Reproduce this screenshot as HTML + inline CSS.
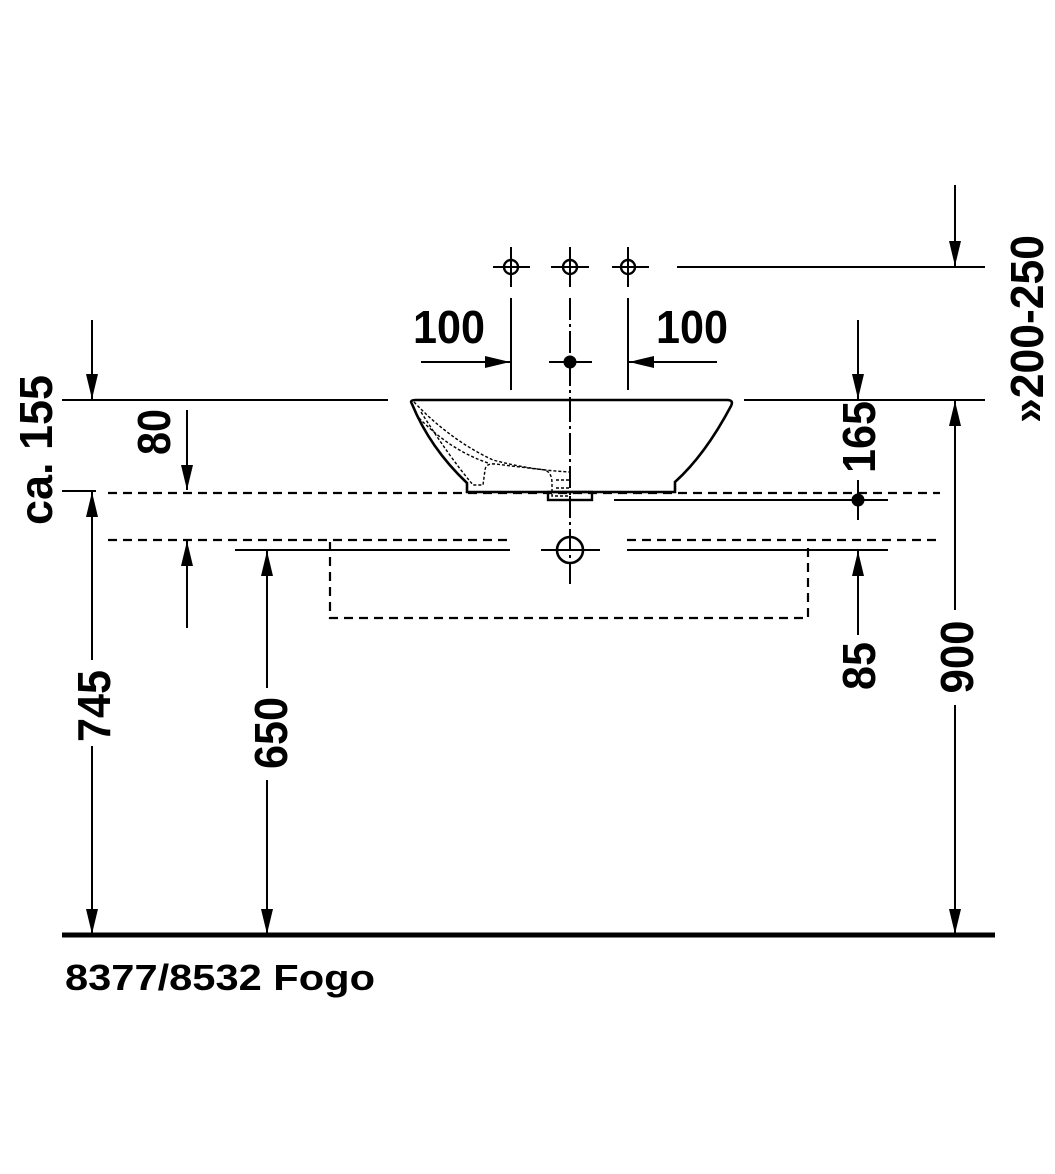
<!DOCTYPE html>
<html><head><meta charset="utf-8"><style>
html,body{margin:0;padding:0;background:#fff}
svg{display:block}
text{font-family:"Liberation Sans",sans-serif;font-weight:bold;fill:#000}
</style></head><body>
<svg width="1055" height="1174" viewBox="0 0 1055 1174" xmlns="http://www.w3.org/2000/svg">
<defs>
<marker id="a" viewBox="0 0 25 12" refX="25" refY="6" markerWidth="25" markerHeight="12" markerUnits="userSpaceOnUse" orient="auto-start-reverse"><path d="M0,0 L25,6 L0,12 Z" fill="#000"/></marker>
</defs>
<g stroke="#000" fill="none" stroke-width="2">
<g stroke-width="2.4"><circle cx="511" cy="267" r="7"/><circle cx="570" cy="267" r="7"/><circle cx="628" cy="267" r="7"/></g>
<line x1="493" y1="267" x2="530" y2="267"/><line x1="511" y1="247" x2="511" y2="287"/>
<line x1="551" y1="267" x2="589" y2="267"/><line x1="570" y1="247" x2="570" y2="287"/>
<line x1="612" y1="267" x2="649" y2="267"/><line x1="628" y1="247" x2="628" y2="287"/>
<line x1="511" y1="298" x2="511" y2="390"/>
<line x1="628" y1="298" x2="628" y2="390"/>
<line x1="570" y1="298" x2="570" y2="585" stroke-dasharray="22,4,3,4"/>
<line x1="549" y1="362" x2="592" y2="362"/>
<line x1="421" y1="362" x2="510" y2="362" marker-end="url(#a)"/>
<line x1="717" y1="362" x2="629" y2="362" marker-end="url(#a)"/>
<line x1="677" y1="267" x2="985" y2="267"/>
<line x1="955" y1="185" x2="955" y2="266" marker-end="url(#a)"/>
<line x1="62" y1="400" x2="388" y2="400"/>
<line x1="744" y1="400" x2="985" y2="400"/>
<path d="M412,404 Q409,400 416,400 L727,400 Q734,400 731,406 Q705,455 675,482 L675,492 L467,492 L467,483 Q430,448 412,404 Z" stroke-width="2.6" fill="#fff"/>
<rect x="548" y="492" width="44" height="8" stroke-width="2.4"/>
<line x1="570" y1="400" x2="570" y2="500" stroke-dasharray="22,4,3,4"/>
<g stroke-width="1.4" stroke-dasharray="3,2">
<path d="M414,402 Q450,440 493,460 Q530,470 570,472"/>
<path d="M421,412 Q448,455 473,485 L483,485 L485,470 Q486,463 495,464 L545,470 Q552,473 552,483 L552,496 L570,496"/>
<path d="M419,418 Q450,450 488,463"/>
<line x1="556" y1="480" x2="570" y2="480"/><line x1="556" y1="488" x2="570" y2="488"/>
</g>
<line x1="62" y1="491" x2="96" y2="491"/>
<line x1="108" y1="493" x2="940" y2="493" stroke-width="2.2" stroke-dasharray="9,6"/>
<line x1="614" y1="500" x2="888" y2="500"/>
<circle cx="858" cy="500" r="5.5" fill="#000"/>
<circle cx="570" cy="362" r="5.5" fill="#000"/>
<line x1="108" y1="540" x2="512" y2="540" stroke-width="2.2" stroke-dasharray="9,6"/>
<line x1="627" y1="540" x2="937" y2="540" stroke-width="2.2" stroke-dasharray="9,6"/>
<line x1="235" y1="550" x2="510" y2="550"/>
<line x1="627" y1="550" x2="888" y2="550"/>
<circle cx="570" cy="550" r="13" stroke-width="2.6"/>
<line x1="541" y1="550" x2="600" y2="550"/>
<path d="M330,542 L330,618 L808,618 L808,542" stroke-width="2.2" stroke-dasharray="9,6"/>
<line x1="92" y1="320" x2="92" y2="399" marker-end="url(#a)"/>
<line x1="92" y1="660" x2="92" y2="492" marker-end="url(#a)"/>
<line x1="92" y1="746" x2="92" y2="934" marker-end="url(#a)"/>
<line x1="187" y1="410" x2="187" y2="490" marker-end="url(#a)"/>
<line x1="187" y1="628" x2="187" y2="541" marker-end="url(#a)"/>
<line x1="267" y1="688" x2="267" y2="551" marker-end="url(#a)"/>
<line x1="267" y1="780" x2="267" y2="934" marker-end="url(#a)"/>
<line x1="858" y1="320" x2="858" y2="399" marker-end="url(#a)"/>
<line x1="858" y1="480" x2="858" y2="520"/>
<line x1="858" y1="635" x2="858" y2="551" marker-end="url(#a)"/>
<line x1="955" y1="610" x2="955" y2="401" marker-end="url(#a)"/>
<line x1="955" y1="705" x2="955" y2="934" marker-end="url(#a)"/>
<line x1="62" y1="935" x2="995" y2="935" stroke-width="5"/>
</g>
<g font-size="46">
<text x="413" y="343" textLength="72" lengthAdjust="spacingAndGlyphs">100</text>
<text x="656" y="343" textLength="72" lengthAdjust="spacingAndGlyphs">100</text>
<text transform="translate(52,450) rotate(-90)" text-anchor="middle" textLength="150" lengthAdjust="spacingAndGlyphs">ca. 155</text>
<text transform="translate(170,432) rotate(-90)" text-anchor="middle" textLength="46" lengthAdjust="spacingAndGlyphs">80</text>
<text transform="translate(110,706) rotate(-90)" text-anchor="middle" textLength="72" lengthAdjust="spacingAndGlyphs">745</text>
<text transform="translate(287,733) rotate(-90)" text-anchor="middle" textLength="72" lengthAdjust="spacingAndGlyphs">650</text>
<text transform="translate(875,437) rotate(-90)" text-anchor="middle" textLength="72" lengthAdjust="spacingAndGlyphs">165</text>
<text transform="translate(875,666) rotate(-90)" text-anchor="middle" textLength="48" lengthAdjust="spacingAndGlyphs">85</text>
<text transform="translate(973,657) rotate(-90)" text-anchor="middle" textLength="73" lengthAdjust="spacingAndGlyphs">900</text>
<text transform="translate(1043,329) rotate(-90)" text-anchor="middle" textLength="188" lengthAdjust="spacingAndGlyphs">»200-250</text>
</g>
<text x="65" y="990" font-size="36" textLength="310" lengthAdjust="spacingAndGlyphs">8377/8532 Fogo</text>
</svg>
</body></html>
